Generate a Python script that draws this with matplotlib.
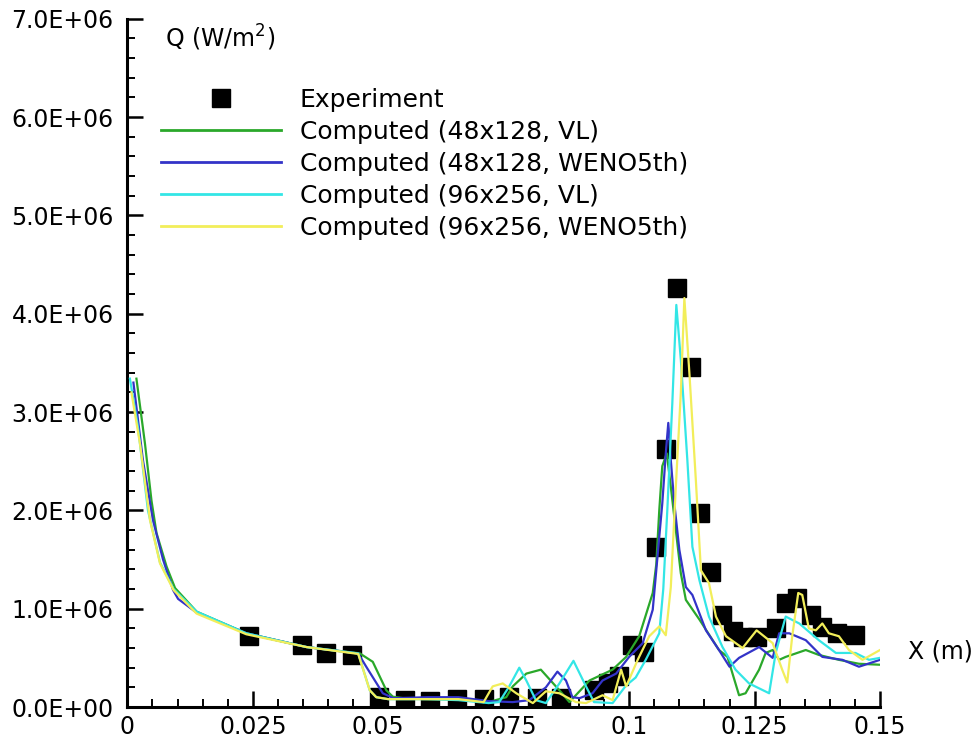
import matplotlib
matplotlib.use("Agg")
import matplotlib.pyplot as plt
from matplotlib.ticker import MultipleLocator, FixedLocator, FuncFormatter

plt.rcParams['font.family'] = ['DejaVu Sans']

# ---------------- data ----------------
x_exp = [0.0242, 0.0347, 0.0396, 0.0448, 0.0501, 0.0554, 0.0604, 0.0657, 0.0710, 0.0761,
         0.0817, 0.0865, 0.0930, 0.0957, 0.0980, 0.1006, 0.1030, 0.1054, 0.1074, 0.1096,
         0.1124, 0.1141, 0.1163, 0.1185, 0.1206, 0.1226, 0.1255, 0.1293, 0.1313, 0.1335,
         0.1363, 0.1385, 0.1414, 0.1451]
q_exp = [0.72, 0.63, 0.55, 0.53, 0.10, 0.07, 0.06, 0.08, 0.08, 0.10,
         0.09, 0.09, 0.17, 0.24, 0.32, 0.63, 0.56, 1.63, 2.62, 4.26,
         3.46, 1.97, 1.37, 0.94, 0.77, 0.71, 0.71, 0.80, 1.06, 1.11,
         0.94, 0.81, 0.75, 0.73]

x_g = [0.0018, 0.0035, 0.0048, 0.0058, 0.0078, 0.0095, 0.0138, 0.0237, 0.0357, 0.0463,
       0.0489, 0.0516, 0.0529, 0.055, 0.060, 0.065, 0.070, 0.072, 0.0755, 0.0768,
       0.0795, 0.0824, 0.0861, 0.0881, 0.0901, 0.0921, 0.0967, 0.0994, 0.102, 0.1047,
       0.1054, 0.106, 0.1066, 0.1075, 0.1083, 0.1093, 0.1103, 0.1113, 0.114, 0.1179,
       0.1196, 0.1206, 0.1219, 0.1232, 0.1259, 0.1272, 0.1286, 0.1299, 0.1312, 0.1352,
       0.1378, 0.1418, 0.1458, 0.15]
q_g = [3.34, 2.68, 2.10, 1.77, 1.43, 1.21, 0.97, 0.75, 0.61, 0.546,
       0.46, 0.17, 0.105, 0.09, 0.08, 0.08, 0.07, 0.05, 0.10, 0.21,
       0.34, 0.38, 0.17, 0.05, 0.16, 0.27, 0.38, 0.51, 0.72, 1.16,
       1.45, 2.0, 2.45, 2.58, 2.24, 1.80, 1.36, 1.09, 0.89, 0.58,
       0.51, 0.34, 0.12, 0.14, 0.38, 0.55, 0.58, 0.48, 0.51, 0.58,
       0.53, 0.48, 0.44, 0.43]

x_b = [0.0012, 0.0031, 0.0051, 0.0071, 0.0091, 0.0101, 0.0138, 0.0237, 0.0357, 0.0460,
       0.0476, 0.0509, 0.053, 0.060, 0.066, 0.072, 0.0768, 0.0801, 0.0834, 0.0857,
       0.0874, 0.0887, 0.0901, 0.0927, 0.0947, 0.0974, 0.1, 0.1027, 0.1047, 0.1057,
       0.1066, 0.1073, 0.1078, 0.1083, 0.109, 0.11, 0.1113, 0.1126, 0.1153, 0.1179,
       0.12, 0.1219, 0.1259, 0.1286, 0.1299, 0.1319, 0.1352, 0.1385, 0.1425, 0.1458,
       0.15]
q_b = [3.30, 2.51, 1.90, 1.50, 1.19, 1.10, 0.96, 0.75, 0.61, 0.545,
       0.41, 0.14, 0.09, 0.10, 0.10, 0.06, 0.05, 0.07, 0.20, 0.36,
       0.27, 0.10, 0.09, 0.14, 0.27, 0.34, 0.51, 0.65, 0.99, 1.56,
       2.07, 2.58, 2.89, 2.51, 2.07, 1.60, 1.22, 1.14, 0.78, 0.58,
       0.41, 0.50, 0.61, 0.50, 0.75, 0.75, 0.68, 0.51, 0.48, 0.41,
       0.48]

x_c = [0.0005, 0.0021, 0.0041, 0.0065, 0.0092, 0.0138, 0.0237, 0.0357, 0.0460, 0.0483,
       0.0496, 0.052, 0.060, 0.066, 0.072, 0.0741, 0.0761, 0.0781, 0.0795, 0.0814,
       0.0834, 0.0861, 0.0889, 0.0914, 0.093, 0.0967, 0.0994, 0.1013, 0.1033, 0.106,
       0.1068, 0.1076, 0.1086, 0.1094, 0.1103, 0.1116, 0.1126, 0.114, 0.1159, 0.1186,
       0.1212, 0.1239, 0.1279, 0.1292, 0.1312, 0.1339, 0.1378, 0.1412, 0.1451, 0.1478,
       0.15]
q_c = [3.34, 2.85, 2.00, 1.47, 1.20, 0.97, 0.75, 0.61, 0.545, 0.17,
       0.10, 0.08, 0.08, 0.07, 0.04, 0.05, 0.21, 0.40, 0.27, 0.07,
       0.04, 0.24, 0.47, 0.21, 0.05, 0.04, 0.22, 0.30, 0.48, 0.75,
       1.20, 2.0, 3.09, 4.09, 3.53, 2.51, 1.63, 1.29, 0.92, 0.61,
       0.38, 0.24, 0.14, 0.55, 0.92, 0.85, 0.68, 0.55, 0.55, 0.48,
       0.50]

x_y = [0.0008, 0.0025, 0.0045, 0.0065, 0.0092, 0.0138, 0.0237, 0.0357, 0.0460, 0.0483,
       0.0496, 0.052, 0.060, 0.066, 0.071, 0.0728, 0.0748, 0.0775, 0.0808, 0.0834,
       0.0861, 0.0894, 0.0914, 0.0947, 0.0967, 0.0984, 0.0994, 0.1017, 0.1040, 0.1060,
       0.1073, 0.1083, 0.1093, 0.1103, 0.111, 0.112, 0.1133, 0.1143, 0.1159, 0.1173,
       0.1193, 0.1226, 0.1254, 0.1286, 0.1305, 0.1315, 0.1325, 0.1337, 0.1345, 0.1358,
       0.1372, 0.1385, 0.1398, 0.1418, 0.1438, 0.1465, 0.15]
q_y = [3.20, 2.68, 1.90, 1.46, 1.19, 0.95, 0.74, 0.61, 0.54, 0.17,
       0.10, 0.08, 0.08, 0.08, 0.05, 0.21, 0.24, 0.14, 0.04, 0.16,
       0.14, 0.05, 0.04, 0.12, 0.07, 0.38, 0.21, 0.48, 0.72, 0.82,
       0.73, 1.22, 2.24, 3.20, 4.16, 3.40, 2.30, 1.39, 1.26, 0.92,
       0.72, 0.60, 0.78, 0.65, 0.38, 0.25, 0.72, 1.16, 1.14, 0.80,
       0.78, 0.85, 0.75, 0.72, 0.58, 0.48, 0.58]

labels = ["Experiment",
          "Computed (48x128, VL)",
          "Computed (48x128, WENO5th)",
          "Computed (96x256, VL)",
          "Computed (96x256, WENO5th)"]
x_ticks = [0, 0.025, 0.05, 0.075, 0.1, 0.125, 0.15]
x_tick_labels = ["0", "0.025", "0.05", "0.075", "0.1", "0.125", "0.15"]

# ---------------- figure ----------------
fig = plt.figure(figsize=(9.8, 7.44), dpi=100)
ax = fig.add_axes([0.130, 0.0497, 0.768, 0.925])

scale = 1e6
ax.plot(x_exp, [v * scale for v in q_exp], linestyle='none', marker='s',
        markersize=12.5, color='black', label=labels[0], zorder=2)
ax.plot(x_g, [v * scale for v in q_g], color='#2aa82a', lw=1.6, label=labels[1], zorder=3)
ax.plot(x_b, [v * scale for v in q_b], color='#3333c8', lw=1.6, label=labels[2], zorder=3)
ax.plot(x_c, [v * scale for v in q_c], color='#33e6e6', lw=1.6, label=labels[3], zorder=3)
ax.plot(x_y, [v * scale for v in q_y], color='#f2ee5a', lw=1.6, label=labels[4], zorder=4)

ax.set_xlim(0, 0.15)
ax.set_ylim(0, 7e6)
ax.xaxis.set_major_locator(FixedLocator(x_ticks))
ax.set_xticklabels(x_tick_labels)
ax.xaxis.set_minor_locator(MultipleLocator(0.005))
ax.yaxis.set_major_locator(MultipleLocator(1e6))
ax.yaxis.set_minor_locator(MultipleLocator(2e5))
ax.yaxis.set_major_formatter(FuncFormatter(lambda v, p: f"{v:.1E}"))

for s in ['top', 'right']:
    ax.spines[s].set_visible(False)
for s in ['left', 'bottom']:
    ax.spines[s].set_linewidth(2.2)

ax.tick_params(which='major', direction='in', length=11.5, width=1.8, labelsize=17)
ax.tick_params(which='minor', direction='in', length=6, width=1.4)
ax.tick_params(axis='y', which='major', pad=10)
ax.tick_params(axis='x', which='major', pad=6)

ax.text(0.05, 0.972, "Q (W/m$^2$)", transform=ax.transAxes, fontsize=17,
        ha='left', va='center')
ax.text(1.037, 0.08, "X (m)", transform=ax.transAxes, fontsize=17,
        ha='left', va='center', clip_on=False)

leg = ax.legend(loc='upper left', bbox_to_anchor=(0.0445, 0.900), frameon=False,
                fontsize=18, handlelength=4.8, handletextpad=0.76, labelspacing=0.32,
                borderpad=0, borderaxespad=0, numpoints=1)
for h in leg.get_lines():
    h.set_linewidth(2.0)

fig.savefig("out.png", dpi=100)
